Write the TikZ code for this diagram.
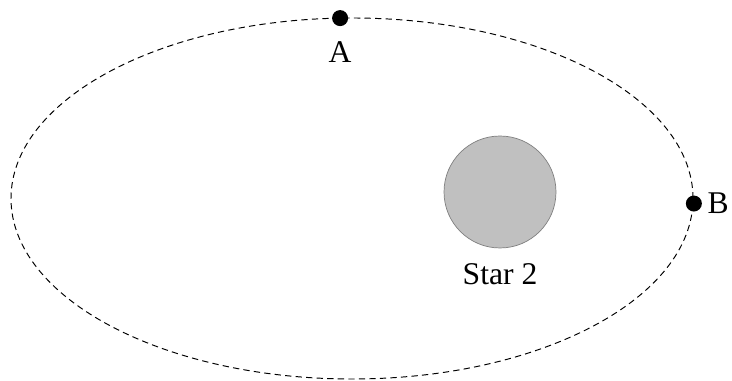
\documentclass[tikz,border=0pt]{standalone}
\usepackage{fontspec}
\setmainfont{Liberation Serif}
\usetikzlibrary{positioning}
\definecolor{ink}{HTML}{000000}
\definecolor{stargray}{HTML}{C0C0C0}
\definecolor{rim}{HTML}{7F7F7F}

\begin{document}
\begin{tikzpicture}[x=0.02cm,y=0.02cm,
  orbit/.style={ink,line width=0.55pt,dash pattern=on 3.6pt off 2.4pt},
  dot/.style={circle,fill=ink,inner sep=0pt,minimum size=0.32cm},
  starbody/.style={circle,draw=rim,fill=stargray,line width=0.4pt,inner sep=0pt,minimum size=2.24cm},
  lbl/.style={font=\fontsize{18}{21}\selectfont,inner sep=0pt}]
\useasboundingbox (0,0) rectangle (732,381);
\coordinate (c) at (352,182.5);
\draw[orbit] (c) ellipse (341 and 180.5);

\node[starbody] (star) at (500,189) {};
\node[lbl,below=0.3cm of star] (starlbl) {Star 2};

\path (c) ++(92:341 and 180.5) node[dot] (A) {};
\path (c) ++(-1.6:342 and 180.5) node[dot] (B) {};
\node[lbl,below=0.3cm of A] (Albl) {A};
\node[lbl,right=0.1cm of B] (Blbl) {B};
\end{tikzpicture}
\end{document}
